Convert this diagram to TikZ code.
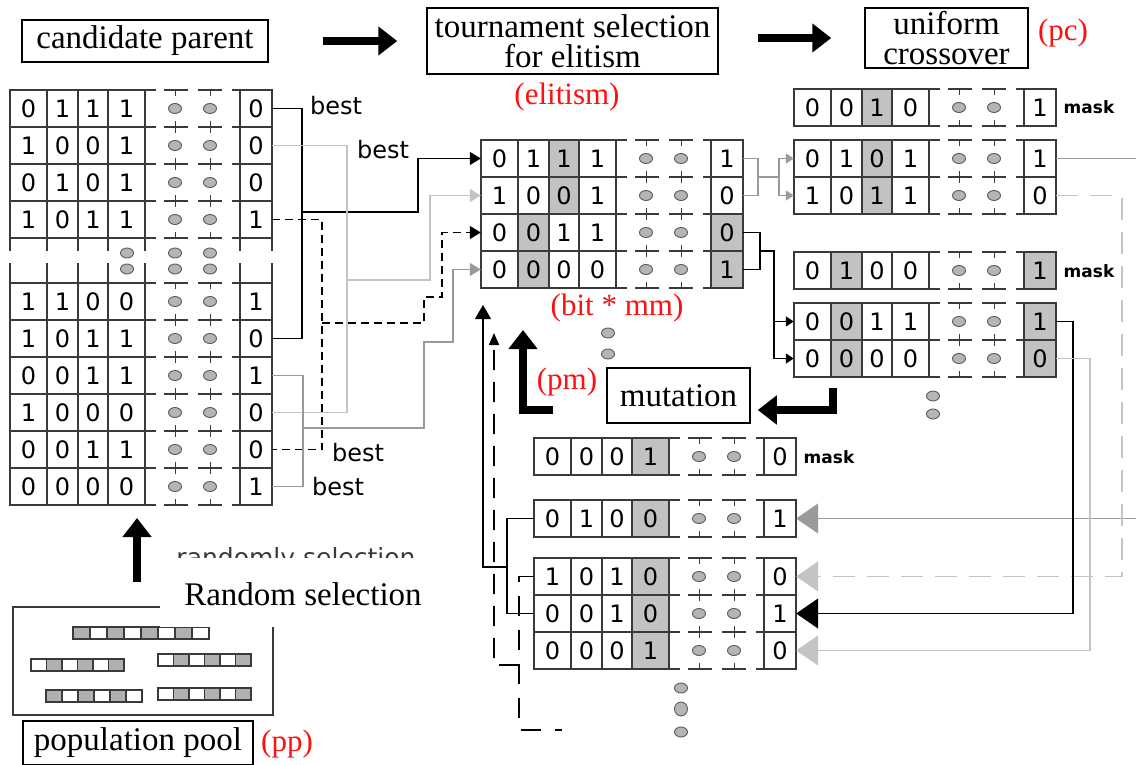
\documentclass[tikz,border=0pt]{standalone}
\usepackage{fontspec}
\setmainfont{Liberation Serif}
\newfontfamily\dvs{DejaVu Sans}
\usetikzlibrary{arrows.meta,shapes.geometric,calc}

\definecolor{lc}{HTML}{3A3A3A}
\definecolor{shadec}{HTML}{C2C2C2}
\definecolor{diafill}{HTML}{B5B5B5}
\definecolor{diaedge}{HTML}{5A5A5A}
\definecolor{lgray}{HTML}{C4C4C4}
\definecolor{mgray}{HTML}{9A9A9A}
\definecolor{redlab}{HTML}{FF1010}
\definecolor{minifill}{HTML}{B0B0B0}

\tikzset{
  grid/.style={draw=lc, line width=1.4pt},
  tick/.style={draw=lc, line width=1pt},
  bit/.style={font=\dvs\fontsize{24}{24}\selectfont, inner sep=0pt, text=black},
  dia/.style={ellipse, draw=diaedge, fill=diafill, line width=0.9pt, minimum width=13pt, minimum height=10pt, inner sep=0pt},
  hbox/.style={draw=black, line width=1.5pt, inner sep=0pt, font=\fontsize{33}{30}\selectfont, align=center},
  redl/.style={text=redlab, font=\fontsize{31}{31}\selectfont, inner sep=0pt},
  bestlab/.style={font=\dvs\fontsize{24}{24}\selectfont, inner sep=0pt},
  masklab/.style={font=\dvs\bfseries\fontsize{17}{17}\selectfont, inner sep=0pt},
  con/.style={line width=1.4pt},
  tri/.style={-{Triangle[length=11pt,width=13pt]}},
  stri/.style={-{Triangle[length=8pt,width=10pt]}},
  bigtri/.style={-{Triangle[length=22pt,width=30pt]}},
  fat/.style={line width=8.5pt, line join=miter, -{Triangle[length=19pt,width=28pt]}},
  minibox/.style={draw=lc, line width=1.1pt},
}

\newcommand\getdig[4]{\def\da{#1}\def\db{#2}\def\dc{#3}\def\dd{#4}}
% name, x, y, bits, last, shaded column (0-4), shaded last (0/1)
\newcommand\brow[7]{%
\getdig#4%
\begin{scope}[shift={(#2,#3)}]
\ifnum#6=1 \fill[shadec] (0,0) rectangle (37,37);\fi
\ifnum#6=2 \fill[shadec] (37,0) rectangle (68,37);\fi
\ifnum#6=3 \fill[shadec] (68,0) rectangle (98,37);\fi
\ifnum#6=4 \fill[shadec] (98,0) rectangle (135,37);\fi
\ifnum#7=1 \fill[shadec] (230,0) rectangle (262,37);\fi
\draw[grid] (0,0) rectangle (135,37) (37,0)--(37,37) (68,0)--(68,37) (98,0)--(98,37)
  (230,0) rectangle (262,37);
\draw[grid] (135,0)--(146,0) (154,0)--(178,0) (188,0)--(212,0) (222,0)--(230,0)
  (135,37)--(146,37) (154,37)--(178,37) (188,37)--(212,37) (222,37)--(230,37);
\draw[tick] (165,0)--(165,6) (200,0)--(200,6) (165,37)--(165,31) (200,37)--(200,31);
\node[bit, minimum width=37pt, minimum height=37pt] (#1a) at (18.5,18.5) {\da};
\node[bit] at (52.5,18.5) {\db};
\node[bit] at (83,18.5) {\dc};
\node[bit] at (116.5,18.5) {\dd};
\node[bit, minimum width=32pt, minimum height=37pt] (#1e) at (246,18.5) {#5};
\node[dia] at (165,18.5) {};
\node[dia] at (200,18.5) {};
\end{scope}}

% x, y, n, cell width, start (0 gray first, 1 white first)
\newcommand\mini[5]{%
\foreach \i in {1,...,#3}{%
  \pgfmathtruncatemacro\g{mod(\i+#5,2)}%
  \ifnum\g=1 \fill[minifill] ({#1+(\i-1)*#4},#2) rectangle ++(#4,12);\fi
  \draw[minibox] ({#1+(\i-1)*#4},#2) rectangle ++(#4,12);
}}

\begin{document}
\begin{tikzpicture}[x=1pt,y=-1pt]
\useasboundingbox[fill=white] (0,0) rectangle (1136,765);

% ---------- header ----------
\node[hbox, minimum width=246pt, minimum height=42pt] (cand) at (145,41) {candidate parent};
\node[hbox, minimum width=291pt, minimum height=66pt] (tour) at (572.5,41) {tournament selection\\for elitism};
\node[hbox, minimum width=163pt, minimum height=60pt] (unif) at (946.5,38) {uniform\\crossover};
\draw[fat, shorten <=54pt, shorten >=29pt] (cand.east) -- (tour.west);
\draw[fat, shorten <=39pt, shorten >=33pt] ([yshift=3pt]tour.east) -- (unif.west);
\node[redl] at (1063,33) {(pc)};
\node[redl] at (567,97) {(elitism)};

% ---------- left table ----------
\brow{L0}{10}{90}{0111}{0}{0}{0}
\brow{L1}{10}{127}{1001}{0}{0}{0}
\brow{L2}{10}{164}{0101}{0}{0}{0}
\brow{L3}{10}{201}{1011}{1}{0}{0}
\foreach \xx in {10,47,78,108,145,240,272}
  \draw[grid] (\xx,238)--(\xx,251) (\xx,263)--(\xx,283);
\foreach \xx in {127,175,210} \foreach \yy in {253,269} \node[dia] at (\xx,\yy) {};
\brow{L4}{10}{283}{1100}{1}{0}{0}
\brow{L5}{10}{320}{1011}{0}{0}{0}
\brow{L6}{10}{357}{0011}{1}{0}{0}
\brow{L7}{10}{394}{1000}{0}{0}{0}
\brow{L8}{10}{431}{0011}{0}{0}{0}
\brow{L9}{10}{468}{0000}{1}{0}{0}

% ---------- elitism table ----------
\brow{M0}{481}{140}{0111}{1}{3}{0}
\brow{M1}{481}{177}{1001}{0}{3}{0}
\brow{M2}{481}{214}{0011}{0}{2}{1}
\brow{M3}{481}{251}{0000}{1}{2}{1}
\node[redl] at (617,308) {(bit * mm)};

% ---------- crossover ----------
\brow{K0}{794}{89}{0010}{1}{3}{0}
\brow{C0}{794}{140}{0101}{1}{3}{0}
\brow{C1}{794}{177}{1011}{0}{3}{0}
\brow{K1}{794}{252}{0100}{1}{2}{1}
\brow{P0}{794}{303}{0011}{1}{2}{1}
\brow{P1}{794}{340}{0000}{0}{2}{1}
\node[masklab] at (1089,107) {mask};
\node[masklab] at (1089,271) {mask};

% ---------- mutation ----------
\brow{Q0}{534}{438}{0001}{0}{4}{0}
\brow{S0}{534}{500}{0100}{1}{4}{0}
\brow{T0}{534}{558}{1010}{0}{4}{0}
\brow{T1}{534}{595}{0010}{1}{4}{0}
\brow{T2}{534}{632}{0001}{0}{4}{0}
\node[masklab] at (829,457) {mask};

\node[hbox, minimum width=143pt, minimum height=55pt] (mut) at (678.5,395.5) {mutation};
\node[redl] at (567,382) {(pm)};

% extra dots
\foreach \p in {(608,333),(608,354),(933,396),(933,414),(681,688),(681,732)} \node[dia] at \p {};
\node[dia, minimum width=13pt, minimum height=14pt] at (681,709) {};

% ---------- tournament connectors ----------
\draw[con,black] (L0e.east) -| (302,338.5) -- (L5e.east);
\coordinate (jA) at (302,212);
\draw[con,black,tri] (jA) -- (418,212) |- (M0a.west);
\node[bestlab] at (336,106) {best};

\draw[con,lgray] (L1e.east) -| (347,412.5) -- (L7e.east);
\coordinate (jB) at (347,280);
\draw[con,lgray,tri] (jB) -- (430,280) |- (M1a.west);
\node[bestlab] at (383,150) {best};

\draw[con,black,dash pattern=on 8pt off 5pt] (L3e.east) -| (322,449.5) -- (L8e.east);
\coordinate (jC) at (322,323);
\draw[con,black,dash pattern=on 8pt off 5pt,tri] (jC) -- (424,323) -- (424,297) -- (442,297) |- (M2a.west);
\node[bestlab] at (358,453) {best};

\draw[con,mgray] (L6e.east) -| (303,486.5) -- (L9e.east);
\coordinate (jD) at (303,428);
\draw[con,mgray,tri] (jD) -- (424,428) -- (424,342) -- (453,342) |- (M3a.west);
\node[bestlab] at (338,487) {best};

% ---------- elitism -> crossover ----------
\draw[con,mgray] (M0e.east) -| (758,195.5) -- (M1e.east);
\coordinate (jE) at (779,177);
\draw[con,mgray] (758,177) -- (jE);
\draw[con,mgray,stri] (jE) |- (C0a.west);
\draw[con,mgray,stri] (jE) |- (C1a.west);

\draw[con,black] (M2e.east) -| (760,269.5) -- (M3e.east);
\coordinate (jF) at (774,321.5);
\draw[con,black,stri] (760,251) -| (jF) -- (P0a.west);
\draw[con,black,stri] (jF) |- (P1a.west);

% ---------- crossover -> mutation ----------
\coordinate (edge1) at (1136,158.5);
\coordinate (edge2) at (1136,518.5);
\draw[con,mgray] (C0e.east) -- (edge1);
\draw[con,mgray,bigtri] (edge2) -- (S0e.east);
\draw[con,lgray,dash pattern=on 22pt off 12pt,bigtri] (C1e.east) -| (1122,576.5) -- (T0e.east);
\draw[con,black,bigtri] (P0e.east) -| (1073,613.5) -- (T1e.east);
\draw[con,lgray,bigtri] (P1e.east) -| (1090,650.5) -- (T2e.east);

\coordinate (mutA) at (833,388);
\draw[fat] (mutA) |- ([xshift=7pt,yshift=-14.5pt]mut.east);

% ---------- mutation -> back up ----------
\draw[con,black] (S0a.west) -| (507,613.5) -- (T1a.west);
\coordinate (jG) at (507,567);
\coordinate (upG) at (483,305);
\draw[con,black,-{Triangle[length=14pt,width=16pt]}] (jG) -| (upG);
\draw[con,black,dash pattern=on 20pt off 14pt] (T0a.west) -| (519,730) -- (562,730);
\coordinate (jH) at (519,665);
\coordinate (upH) at (494,333);
\draw[con,black,dash pattern=on 20pt off 12pt,-{Triangle[length=12pt,width=10pt]}] (jH) -| (upH);

\coordinate (pmA) at (553,410);
\draw[fat] (pmA) -| (523,330);

% ---------- population pool ----------
\draw[line width=1.3pt, draw=lc] (13,607) rectangle (273,715);
\mini{73}{627}{8}{17}{0}
\mini{31}{659}{6}{15.5}{1}
\mini{158}{654}{6}{15.5}{1}
\mini{46}{690}{6}{16}{0}
\mini{158}{688}{6}{15.5}{1}
\node[anchor=base, font=\dvs\fontsize{25}{25}\selectfont, text=lc, inner sep=0pt] (rsel) at (296,566) {randomly selection};
\fill[white] (160,558) rectangle (434,627);
\node[font=\fontsize{33}{33}\selectfont, inner sep=0pt] (rs) at (303,594) {Random selection};
\coordinate (poolTop) at (137,582);
\coordinate (candBot) at (137,518);
\draw[fat] (poolTop) -- (candBot);
\node[hbox, minimum width=230pt, minimum height=44pt] (pop) at (138,743) {population pool};
\node[redl] at (287,744) {(pp)};
\end{tikzpicture}
\end{document}
